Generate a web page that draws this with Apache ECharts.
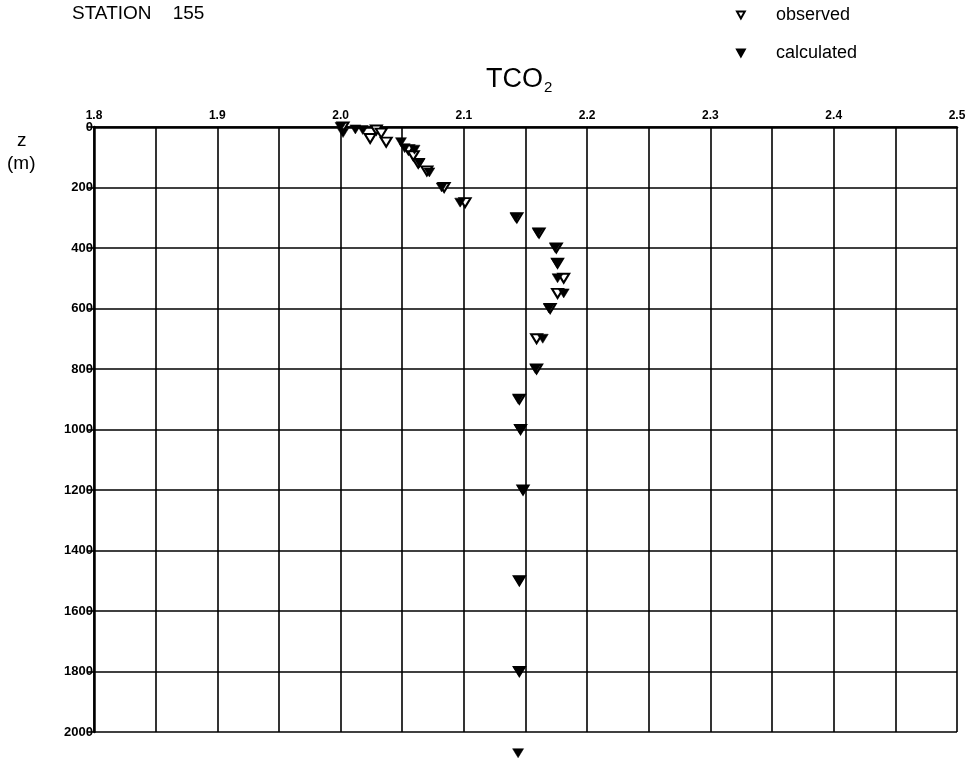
<!DOCTYPE html>
<html>
<head>
<meta charset="utf-8">
<script src="https://cdn.jsdelivr.net/npm/echarts@6/dist/echarts.min.js"></script>
<style>html,body{margin:0;padding:0;background:#fff;}#c{width:972px;height:773px;}</style>
</head>
<body>
<div id="c"></div>
<script>
// Tick settings
var xTicks = [1.8, 1.9, 2.0, 2.1, 2.2, 2.3, 2.4, 2.5];
var yTicks = [0, 200, 400, 600, 800, 1000, 1200, 1400, 1600, 1800, 2000];

// Observed TCO2 (x) vs depth z (m)
var obsDepth = [0, 10, 20, 38, 50, 75, 95, 120, 145, 200, 250, 300, 350, 400, 450, 500, 550, 600, 700, 800, 900, 1000, 1200, 1500, 1800];
var obsTCO2  = [2.002, 2.029, 2.033, 2.024, 2.037, 2.055, 2.059, 2.063, 2.070, 2.084, 2.101, 2.143, 2.161, 2.175, 2.176, 2.181, 2.176, 2.170, 2.159, 2.159, 2.145, 2.146, 2.148, 2.145, 2.145];

// Calculated TCO2 (x) vs depth z (m)
var calDepth = [0, 20, 8, 10, 50, 70, 75, 120, 150, 200, 250, 300, 350, 400, 450, 500, 550, 600, 700, 800, 900, 1000, 1200, 1500, 1800, 2070];
var calTCO2  = [2.000, 2.002, 2.012, 2.018, 2.049, 2.052, 2.060, 2.064, 2.072, 2.082, 2.097, 2.142, 2.160, 2.174, 2.1755, 2.176, 2.181, 2.169, 2.164, 2.158, 2.144, 2.1455, 2.1477, 2.145, 2.1447, 2.144];

function pairs(xs, ys) { return xs.map(function (v, i) { return [v, ys[i]]; }); }

var tri = 'path://M0,0 L10,0 L5,9 Z';
var chart = echarts.init(document.getElementById('c'));
var ff = '"Liberation Sans", Arial, sans-serif';

chart.setOption({
  animation: false,
  backgroundColor: '#fff',
  grid: { left: 94, right: 15, top: 127, bottom: 41 },
  legend: {
    orient: 'vertical', left: 731, top: 1, itemGap: 20,
    itemWidth: 8, itemHeight: 7,
    data: ['observed', 'calculated'],
    textStyle: { fontFamily: ff, fontSize: 18, color: '#000', padding: [0, 0, 0, 26] }
  },
  graphic: [
    { type: 'text', x: 72, y: 14, style: { text: 'STATION    155', fontFamily: ff, fontSize: 19, fill: '#000', verticalAlign: 'middle' } },
    { type: 'text', x: 543, y: 80, style: { text: 'TCO', fontFamily: ff, fontSize: 27, fill: '#000', align: 'right', verticalAlign: 'middle' } },
    { type: 'text', x: 544, y: 88, style: { text: '2', fontFamily: ff, fontSize: 15, fill: '#000', verticalAlign: 'middle' } },
    { type: 'text', x: 17, y: 141, style: { text: 'z', fontFamily: ff, fontSize: 19, fill: '#000', verticalAlign: 'middle' } },
    { type: 'text', x: 7, y: 164, style: { text: '(m)', fontFamily: ff, fontSize: 19, fill: '#000', verticalAlign: 'middle' } }
  ],
  xAxis: {
    type: 'value', position: 'top', min: 1.8, max: 2.5, interval: 0.05,
    axisLine: { show: true, lineStyle: { color: '#000', width: 2.5 } },
    axisTick: { show: false },
    splitLine: { show: true, lineStyle: { color: '#000', width: 1.6 } },
    axisLabel: {
      color: '#000', fontFamily: ff, fontSize: 12, fontWeight: 'bold', margin: 5,
      formatter: function (v) {
        for (var i = 0; i < xTicks.length; i++) { if (Math.abs(v - xTicks[i]) < 1e-6) return xTicks[i].toFixed(1); }
        return '';
      }
    }
  },
  yAxis: {
    type: 'value', inverse: true, min: 0, max: 2000, interval: 200,
    axisLine: { show: true, lineStyle: { color: '#000', width: 2.5 } },
    axisTick: { show: true, length: 6, lineStyle: { color: '#000', width: 1.6 } },
    splitLine: { show: true, lineStyle: { color: '#000', width: 1.6 } },
    axisLabel: {
      color: '#000', fontFamily: ff, fontSize: 13, fontWeight: 'bold', margin: 1,
      formatter: function (v) { return yTicks.indexOf(v) >= 0 ? String(v) : ''; }
    }
  },
  series: [
    {
      name: 'observed', type: 'scatter', clip: false, symbol: tri, symbolSize: [11, 9],
      itemStyle: { color: '#fff', borderColor: '#000', borderWidth: 2, opacity: 1 },
      data: pairs(obsTCO2, obsDepth), z: 2
    },
    {
      name: 'calculated', type: 'scatter', clip: false, symbol: tri, symbolSize: [11, 9],
      itemStyle: { color: '#000', borderColor: '#000', borderWidth: 0.5, opacity: 1 },
      data: pairs(calTCO2, calDepth), z: 3
    }
  ]
});
</script>
</body>
</html>
